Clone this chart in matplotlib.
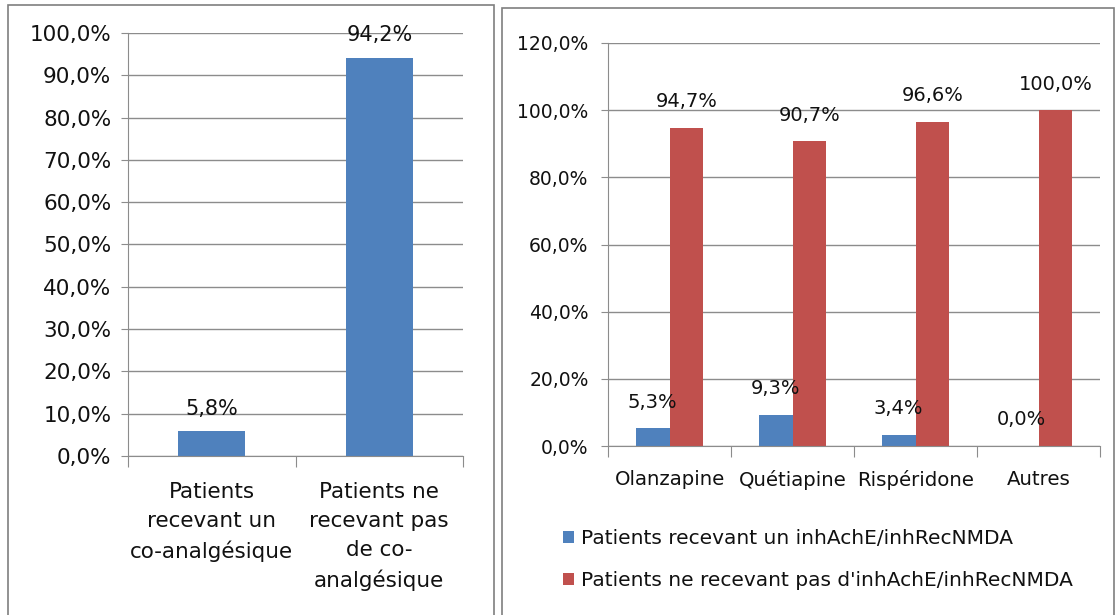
import matplotlib
matplotlib.use("Agg")
import matplotlib.pyplot as plt
from matplotlib.patches import Rectangle
from matplotlib.ticker import FuncFormatter, FixedLocator
import numpy as np

# ---- data ----
left_categories = ["Patients\nrecevant un\nco-analgésique",
                   "Patients ne\nrecevant pas\nde co-\nanalgésique"]
left_values = [5.8, 94.2]

right_categories = ["Olanzapine", "Quétiapine", "Rispéridone", "Autres"]
series_with = [5.3, 9.3, 3.4, 0.0]
series_without = [94.7, 90.7, 96.6, 100.0]
series_names = ["Patients recevant un inhAchE/inhRecNMDA",
                "Patients ne recevant pas d'inhAchE/inhRecNMDA"]

BLUE = "#4F81BD"
RED = "#C0504D"
GRID = "#8c8c8c"

plt.rcParams['font.family'] = ['DejaVu Sans']
plt.rcParams['text.color'] = '#111111'
plt.rcParams['xtick.labelcolor'] = '#111111'
plt.rcParams['ytick.labelcolor'] = '#111111'

fig = plt.figure(figsize=(11.16, 6.15), dpi=100)
W, H = 1116, 615

def fx(px):
    return px / W

def fy(py):
    return 1 - py / H

# panel frames
fig.patches.append(Rectangle((fx(8), fy(618)), fx(494) - fx(8), fy(5) - fy(618),
                             transform=fig.transFigure, fill=False,
                             edgecolor="#7f7f7f", lw=1.2))
fig.patches.append(Rectangle((fx(502), fy(618)), fx(1114) - fx(502), fy(8) - fy(618),
                             transform=fig.transFigure, fill=False,
                             edgecolor="#7f7f7f", lw=1.2))

pct = FuncFormatter(lambda v, p: f"{v:.1f}".replace(".", ",") + "%")

def fmt(v):
    return f"{v:.1f}".replace(".", ",") + "%"

def style_axes(ax, ymax, step, ticksize, pad):
    ax.set_ylim(0, ymax)
    ax.set_yticks(np.arange(0, ymax + 0.01, step))
    ax.yaxis.set_major_formatter(pct)
    ax.yaxis.grid(True, color=GRID, lw=1)
    ax.set_axisbelow(True)
    for s in ["top", "right"]:
        ax.spines[s].set_visible(False)
    ax.spines["left"].set_color(GRID)
    ax.spines["bottom"].set_color(GRID)
    ax.tick_params(axis="y", length=5, color=GRID, labelsize=ticksize, pad=pad)

# ---- left chart ----
axL = fig.add_axes([fx(128), fy(456), fx(463) - fx(128), fy(33) - fy(456)])
style_axes(axL, 100, 10, 15.5, 7)
xL = np.arange(len(left_values))
axL.bar(xL, left_values, width=0.4, color=BLUE)
axL.set_xlim(-0.5, len(left_values) - 0.5)
axL.xaxis.set_major_locator(FixedLocator(np.arange(-0.5, len(left_values), 1)))
axL.tick_params(axis="x", length=8, color=GRID, labelbottom=False)
for i, c in enumerate(left_categories):
    axL.annotate(c, (i, 0), xycoords=("data", "axes fraction"), xytext=(0, -18.5),
                 textcoords="offset points", ha="center", va="top",
                 fontsize=15.5, linespacing=1.56)
for i, v in enumerate(left_values):
    axL.annotate(fmt(v), (i, v), xytext=(0, 9),
                 textcoords="offset points", ha="center", va="bottom", fontsize=15)

# ---- right chart ----
axR = fig.add_axes([fx(608), fy(446), fx(1100) - fx(608), fy(43) - fy(446)])
style_axes(axR, 120, 20, 13.5, 9)
xR = np.arange(len(right_categories))
bw = 0.275
b1 = axR.bar(xR - bw / 2, series_with, width=bw, color=BLUE, label=series_names[0])
b2 = axR.bar(xR + bw / 2, series_without, width=bw, color=RED, label=series_names[1])
axR.set_xlim(-0.5, len(right_categories) - 0.5)
axR.xaxis.set_major_locator(FixedLocator(np.arange(-0.5, len(right_categories), 1)))
axR.tick_params(axis="x", length=8, color=GRID, labelbottom=False)
for i, c in enumerate(right_categories):
    axR.annotate(c, (i, 0), xycoords=("data", "axes fraction"), xytext=(0, -17),
                 textcoords="offset points", ha="center", va="top", fontsize=14.2)
for i, v in enumerate(series_with):
    axR.annotate(fmt(v), (i - bw / 2, v), xytext=(0, 12),
                 textcoords="offset points", ha="center", va="bottom", fontsize=14)
for i, v in enumerate(series_without):
    axR.annotate(fmt(v), (i + bw / 2, v), xytext=(0, 12),
                 textcoords="offset points", ha="center", va="bottom", fontsize=14)

fig.legend(handles=[b1, b2], labels=series_names, loc="upper left",
           bbox_to_anchor=(fx(555), fy(521)), frameon=False, fontsize=14.5,
           handlelength=0.55, handleheight=0.55, handletextpad=0.35,
           labelspacing=1.15, borderaxespad=0)

fig.savefig("out.png", dpi=100, facecolor="white")
